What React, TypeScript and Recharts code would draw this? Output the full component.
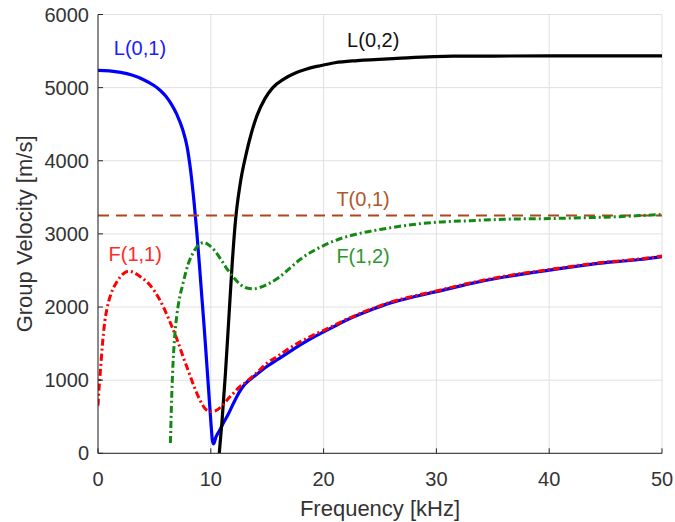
import React from 'react';
import { LineChart, Line, XAxis, YAxis, CartesianGrid, ReferenceDot } from 'recharts';

const FONT = '"Liberation Sans", Arial, Helvetica, sans-serif';

const freqTicks = [0, 10, 20, 30, 40, 50];
const velTicks = [0, 1000, 2000, 3000, 4000, 5000, 6000];

// L(0,1)
const l01Freq = [0, 1, 2, 3, 4, 5, 5.5, 6, 6.5, 7, 7.5, 7.9, 8.2, 8.5, 8.75, 9.0, 9.2, 9.4, 9.6, 9.8, 10.0, 10.15, 10.25, 10.45, 10.8, 11.1, 11.5, 12, 12.5, 13, 14, 15, 16, 17, 18, 19, 20, 21, 22, 24, 26, 28, 30, 33, 36, 40, 44, 48, 50];
const l01Vel = [5235, 5228, 5208, 5172, 5112, 5025, 4965, 4885, 4775, 4630, 4430, 4190, 3880, 3460, 3040, 2560, 2150, 1750, 1320, 880, 440, 170, 130, 220, 320, 410, 520, 680, 830, 940, 1070, 1190, 1290, 1390, 1490, 1580, 1660, 1740, 1820, 1950, 2060, 2140, 2210, 2320, 2410, 2505, 2590, 2650, 2690];

// L(0,2)
const l02Freq = [10.75, 11.0, 11.3, 11.6, 11.9, 12.2, 12.6, 13.1, 13.6, 14.1, 14.8, 15.5, 16.5, 17.5, 18.5, 19.7, 21, 23, 26.5, 31.5, 35, 40, 45, 50];
const l02Vel = [0, 450, 1100, 1850, 2600, 3200, 3680, 4070, 4380, 4620, 4850, 5000, 5120, 5200, 5255, 5300, 5340, 5370, 5400, 5430, 5432, 5433, 5434, 5435];

// T(0,1)
const t01Freq = [0, 50];
const t01Vel = [3250, 3250];

// F(1,1)
const f11Freq = [0, 0.1, 0.2, 0.4, 0.6, 0.8, 1.2, 1.7, 2.2, 2.7, 3.2, 3.8, 4.6, 5.4, 6.4, 7.0, 7.5, 8.0, 8.5, 9.0, 9.5, 10.0, 10.4, 11.0, 11.5, 12, 12.5, 13, 14, 15, 16, 17, 18, 19, 20, 21, 22, 24, 26, 28, 30, 33, 36, 40, 44, 48, 50];
const f11Vel = [650, 900, 1100, 1500, 1800, 1980, 2200, 2350, 2450, 2490, 2470, 2410, 2300, 2120, 1790, 1560, 1340, 1130, 920, 740, 610, 570, 580, 650, 740, 820, 900, 960, 1090, 1235, 1335, 1440, 1530, 1610, 1680, 1755, 1830, 1960, 2070, 2150, 2220, 2330, 2420, 2512, 2597, 2657, 2697];

// F(1,2)
const f12Freq = [6.42, 6.5, 6.6, 6.8, 7.0, 7.2, 7.5, 8.0, 8.5, 9.0, 9.4, 9.9, 10.4, 10.9, 11.4, 12.0, 12.6, 13.2, 13.8, 14.4, 15, 16, 17, 18, 19, 20, 21.4, 23, 25, 27.5, 30, 33, 36, 40, 43, 46, 48, 50];
const f12Vel = [140, 600, 1050, 1600, 1900, 2100, 2300, 2590, 2760, 2860, 2880, 2840, 2760, 2650, 2530, 2410, 2310, 2260, 2250, 2270, 2310, 2400, 2530, 2660, 2760, 2840, 2930, 3000, 3060, 3120, 3160, 3180, 3200, 3210, 3220, 3235, 3250, 3265];

// annotation labels
const labelTexts = ['L(0,1)', 'L(0,2)', 'T(0,1)', 'F(1,1)', 'F(1,2)'];
const labelFreq = [3.72, 24.4, 23.5, 3.3, 23.5];
const labelVel = [5541, 5650, 3476, 2724, 2697];
const labelColors = ['#1a1aff', '#111111', '#b0582c', '#ff2a2a', '#2e962e'];

const zip = (fs: number[], vs: number[]) => fs.map((f, i) => ({ f, v: vs[i] }));

const l01 = zip(l01Freq, l01Vel);
const l02 = zip(l02Freq, l02Vel);
const t01 = zip(t01Freq, t01Vel);
const f11 = zip(f11Freq, f11Vel);
const f12 = zip(f12Freq, f12Vel);

const AXIS = '#262626';
const TICK_FILL = '#333333';

const YTitle = (props: any) => {
  const vb = props.viewBox || { x: 0, y: 0, width: 0, height: 0 };
  const cx = vb.x + 16.5;
  const cy = vb.y + vb.height / 2;
  return (
    <text x={cx} y={cy} transform={`rotate(-90 ${cx} ${cy})`} textAnchor="middle" dominantBaseline="central" fill={TICK_FILL} fontSize={22} fontFamily={FONT}>
      Group Velocity [m/s]
    </text>
  );
};

const XTitle = (props: any) => {
  const vb = props.viewBox || { x: 0, y: 0, width: 0, height: 0 };
  const cx = vb.x + vb.width / 2;
  const cy = vb.y + 55;
  return (
    <text x={cx} y={cy} textAnchor="middle" dominantBaseline="central" fill={TICK_FILL} fontSize={22} fontFamily={FONT}>
      Frequency [kHz]
    </text>
  );
};

export default function App() {
  return (
    <div style={{ position: 'absolute', left: 0, top: 0, width: 675, height: 522 }}>
      <LineChart width={675} height={522} margin={{ top: 14.5, right: 13, bottom: 18.7, left: 8 }}>
        <CartesianGrid stroke="#e0e0e0" strokeWidth={1} />
        <XAxis
          dataKey="f"
          type="number"
          domain={[0, 50]}
          ticks={freqTicks}
          allowDataOverflow
          height={50}
          stroke={AXIS}
          tickSize={-5}
          tickMargin={23}
          tick={{ fill: TICK_FILL, fontSize: 20, fontFamily: FONT }}
          label={{ content: XTitle }}
        />
        <XAxis
          xAxisId="top"
          orientation="top"
          dataKey="f"
          type="number"
          domain={[0, 50]}
          ticks={freqTicks}
          allowDataOverflow
          height={0}
          stroke={AXIS}
          tickSize={-5}
          tick={false}
        />
        <YAxis
          type="number"
          domain={[0, 6000]}
          ticks={velTicks}
          allowDataOverflow
          width={90}
          stroke={AXIS}
          tickSize={-5}
          tickMargin={14}
          tick={{ fill: TICK_FILL, fontSize: 20, fontFamily: FONT }}
          label={{ content: YTitle }}
        />
        <YAxis
          yAxisId="right"
          orientation="right"
          type="number"
          domain={[0, 6000]}
          ticks={velTicks}
          allowDataOverflow
          width={0}
          stroke={AXIS}
          tickSize={-5}
          tick={false}
        />
        <Line data={l01} dataKey="v" type="monotone" stroke="#0000ff" strokeWidth={3.2} dot={false} isAnimationActive={false} />
        <Line data={l02} dataKey="v" type="monotone" stroke="#000000" strokeWidth={3.2} dot={false} isAnimationActive={false} />
        <Line data={t01} dataKey="v" type="linear" stroke="#b0441a" strokeWidth={2} strokeDasharray="11 7" dot={false} isAnimationActive={false} />
        <Line data={f11} dataKey="v" type="monotone" stroke="#ff0000" strokeWidth={3} strokeDasharray="7 3 2 3" dot={false} isAnimationActive={false} />
        <Line data={f12} dataKey="v" type="monotone" stroke="#128a12" strokeWidth={3} strokeDasharray="7 3 2 3" dot={false} isAnimationActive={false} />
        {labelTexts.map((t, i) => (
          <ReferenceDot
            key={t}
            x={labelFreq[i]}
            y={labelVel[i]}
            r={0}
            fill="none"
            stroke="none"
            label={{ value: t, position: 'center', fill: labelColors[i], fontSize: 20, fontFamily: FONT }}
          />
        ))}
      </LineChart>
    </div>
  );
}
